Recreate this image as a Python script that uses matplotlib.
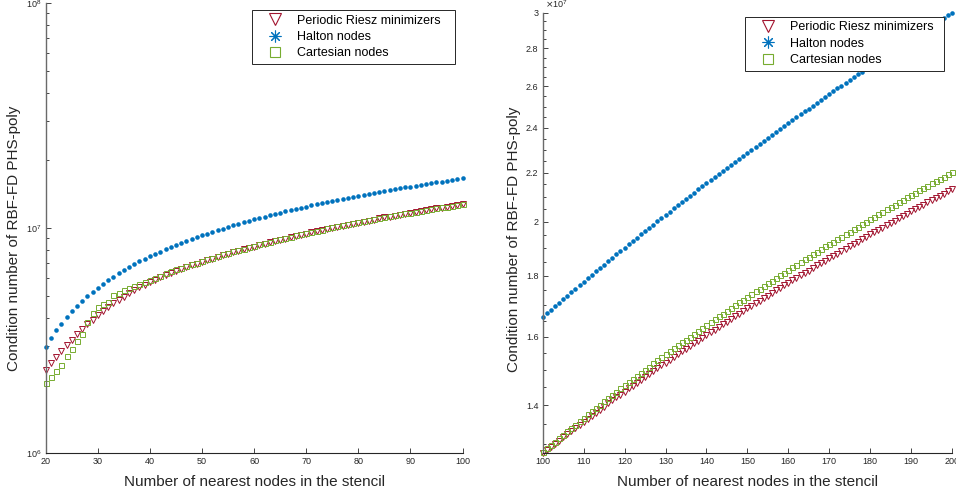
import numpy as np
import matplotlib.pyplot as plt
from matplotlib.lines import Line2D
from matplotlib.ticker import FixedLocator, FuncFormatter, LogLocator, NullFormatter

plt.rcParams['font.family'] = ['Liberation Sans', 'DejaVu Sans']

# Stencil sizes
n_small = list(range(20, 101))
n_large = list(range(100, 201))

# Condition numbers for n = 20..100 (units of 1e6)
riesz_small = [
    2.35, 2.51, 2.68, 2.86, 3.03, 3.20, 3.38, 3.56, 3.74, 3.92,
    4.10, 4.28, 4.46, 4.63, 4.80, 4.97, 5.13, 5.29, 5.45, 5.60,
    5.75, 5.90, 6.04, 6.19, 6.33, 6.46, 6.58, 6.71, 6.83, 6.95,
    7.08, 7.20, 7.32, 7.44, 7.56, 7.68, 7.80, 7.92, 8.04, 8.16,
    8.28, 8.40, 8.52, 8.64, 8.76, 8.87, 8.99, 9.11, 9.22, 9.34,
    9.45, 9.57, 9.68, 9.80, 9.91, 10.03, 10.14, 10.25, 10.37, 10.48,
    10.59, 10.70, 10.81, 10.92, 11.04, 11.15, 11.26, 11.36, 11.47, 11.58,
    11.69, 11.80, 11.91, 12.01, 12.12, 12.23, 12.34, 12.44, 12.55, 12.65,
    12.76]
halton_small = [
    2.98, 3.25, 3.52, 3.77, 4.02, 4.27, 4.51, 4.75, 4.98, 5.21,
    5.44, 5.66, 5.88, 6.09, 6.30, 6.51, 6.71, 6.91, 7.11, 7.30,
    7.49, 7.68, 7.86, 8.05, 8.23, 8.41, 8.59, 8.76, 8.94, 9.11,
    9.28, 9.45, 9.62, 9.79, 9.95, 10.12, 10.28, 10.44, 10.61, 10.77,
    10.93, 11.09, 11.24, 11.40, 11.56, 11.71, 11.87, 12.02, 12.17, 12.32,
    12.47, 12.62, 12.77, 12.91, 13.06, 13.21, 13.35, 13.49, 13.64, 13.78,
    13.92, 14.06, 14.20, 14.34, 14.48, 14.62, 14.75, 14.89, 15.03, 15.16,
    15.30, 15.43, 15.57, 15.70, 15.83, 15.97, 16.10, 16.23, 16.36, 16.49,
    16.62]
cartesian_small = [
    2.05, 2.19, 2.31, 2.47, 2.71, 2.91, 3.16, 3.39, 3.83, 4.19,
    4.45, 4.58, 4.72, 5.04, 5.17, 5.32, 5.41, 5.54, 5.65, 5.75,
    5.89, 6.03, 6.16, 6.30, 6.44, 6.56, 6.67, 6.80, 6.92, 7.03,
    7.16, 7.28, 7.40, 7.52, 7.64, 7.76, 7.88, 8.00, 8.11, 8.23,
    8.35, 8.48, 8.59, 8.71, 8.83, 8.94, 9.06, 9.17, 9.28, 9.41,
    9.52, 9.64, 9.74, 9.86, 9.97, 10.09, 10.20, 10.31, 10.42, 10.53,
    10.64, 10.75, 10.86, 10.97, 11.08, 11.19, 11.30, 11.41, 11.52, 11.63,
    11.73, 11.84, 11.95, 12.05, 12.16, 12.27, 12.36, 12.46, 12.58, 12.68,
    12.79]

# Condition numbers for n = 100..200 (units of 1e7)
riesz_large = [
    1.276, 1.284, 1.292, 1.300, 1.308, 1.316, 1.324, 1.332, 1.341, 1.349,
    1.357, 1.365, 1.373, 1.381, 1.389, 1.397, 1.406, 1.414, 1.422, 1.430,
    1.438, 1.447, 1.455, 1.463, 1.471, 1.480, 1.488, 1.496, 1.505, 1.513,
    1.521, 1.530, 1.538, 1.546, 1.555, 1.563, 1.571, 1.580, 1.588, 1.597,
    1.605, 1.614, 1.622, 1.630, 1.639, 1.647, 1.656, 1.664, 1.673, 1.681,
    1.690, 1.699, 1.707, 1.716, 1.724, 1.733, 1.741, 1.750, 1.759, 1.767,
    1.776, 1.785, 1.793, 1.802, 1.811, 1.819, 1.828, 1.837, 1.845, 1.854,
    1.863, 1.872, 1.880, 1.889, 1.898, 1.907, 1.916, 1.924, 1.933, 1.942,
    1.951, 1.960, 1.969, 1.977, 1.986, 1.995, 2.004, 2.013, 2.022, 2.031,
    2.040, 2.049, 2.058, 2.067, 2.076, 2.085, 2.094, 2.103, 2.112, 2.121,
    2.130]
halton_large = [
    1.662, 1.674, 1.685, 1.697, 1.709, 1.721, 1.732, 1.744, 1.756, 1.768,
    1.780, 1.792, 1.804, 1.816, 1.828, 1.840, 1.852, 1.865, 1.877, 1.889,
    1.901, 1.914, 1.926, 1.938, 1.951, 1.963, 1.976, 1.988, 2.001, 2.014,
    2.026, 2.039, 2.052, 2.064, 2.077, 2.090, 2.103, 2.116, 2.129, 2.142,
    2.155, 2.168, 2.181, 2.194, 2.207, 2.220, 2.234, 2.247, 2.260, 2.273,
    2.287, 2.300, 2.314, 2.327, 2.341, 2.354, 2.368, 2.381, 2.395, 2.409,
    2.422, 2.436, 2.450, 2.464, 2.478, 2.491, 2.505, 2.519, 2.533, 2.547,
    2.561, 2.576, 2.590, 2.604, 2.618, 2.632, 2.647, 2.661, 2.675, 2.690,
    2.704, 2.719, 2.733, 2.748, 2.762, 2.777, 2.791, 2.806, 2.821, 2.836,
    2.850, 2.865, 2.880, 2.895, 2.910, 2.925, 2.940, 2.955, 2.970, 2.985,
    3.000]
cartesian_large = [
    1.279, 1.288, 1.297, 1.305, 1.314, 1.323, 1.332, 1.341, 1.349, 1.358,
    1.367, 1.376, 1.385, 1.394, 1.402, 1.411, 1.420, 1.429, 1.438, 1.447,
    1.456, 1.465, 1.474, 1.483, 1.492, 1.501, 1.510, 1.519, 1.528, 1.537,
    1.546, 1.555, 1.564, 1.573, 1.582, 1.591, 1.600, 1.609, 1.618, 1.628,
    1.637, 1.646, 1.655, 1.664, 1.673, 1.682, 1.692, 1.701, 1.710, 1.719,
    1.729, 1.738, 1.747, 1.756, 1.765, 1.775, 1.784, 1.793, 1.803, 1.812,
    1.821, 1.831, 1.840, 1.849, 1.859, 1.868, 1.877, 1.887, 1.896, 1.906,
    1.915, 1.924, 1.934, 1.943, 1.953, 1.962, 1.972, 1.981, 1.991, 2.000,
    2.010, 2.019, 2.029, 2.038, 2.048, 2.057, 2.067, 2.077, 2.086, 2.096,
    2.105, 2.115, 2.125, 2.134, 2.144, 2.154, 2.163, 2.173, 2.183, 2.192,
    2.202]

labels = ['Periodic Riesz minimizers', 'Halton nodes', 'Cartesian nodes']
red, blue, green = '#A2142F', '#0072BD', '#77AC30'
dark = '#262626'


def draw(ax, n, riesz, halton, cart, scale):
    riesz = np.array(riesz) * scale
    halton = np.array(halton) * scale
    cart = np.array(cart) * scale
    ax.plot(n, riesz, ls='none', marker='v', ms=4.5, mfc='none', mec=red,
            mew=0.7, clip_on=False)
    ax.plot(n, halton, ls='none', marker='o', ms=3.3, mfc=blue, mec='none',
            clip_on=False)
    ax.plot(n, cart, ls='none', marker='s', ms=3.6, mfc='none', mec=green,
            mew=0.7, clip_on=False)
    ax.set_yscale('log')
    ax.set_xlim(n[0], n[-1])
    for side in ['top', 'right']:
        ax.spines[side].set_visible(False)
    ax.spines['bottom'].set_color(dark)
    ax.spines['bottom'].set_linewidth(0.8)
    ax.spines['left'].set_color('#6a6a6a')
    ax.spines['left'].set_linewidth(1.0)
    ax.tick_params(which='both', direction='in', color=dark, labelcolor=dark,
                   labelsize=6.5, width=0.6, pad=3)
    ax.tick_params(which='major', length=3.5)
    ax.tick_params(which='minor', length=2)
    ax.set_xlabel('Number of nearest nodes in the stencil', fontsize=11,
                  color=dark, labelpad=6.5)
    ax.set_ylabel('Condition number of RBF-FD PHS-poly', fontsize=11,
                  color=dark)

    handles = [
        Line2D([], [], ls='none', marker='v', ms=9, mfc='none', mec=red, mew=0.8),
        Line2D([], [], ls='none', marker=(8, 2, 0), ms=8.5, mec=blue, mew=0.8),
        Line2D([], [], ls='none', marker='s', ms=6.5, mfc='none', mec=green, mew=0.8),
    ]
    return handles


def add_legend(ax, handles, box):
    leg = ax.legend(handles, labels, loc='upper left', bbox_to_anchor=box,
                    mode='expand', borderaxespad=0, fontsize=9, fancybox=False,
                    framealpha=1, edgecolor=dark, borderpad=0.38,
                    labelspacing=0.34, handlelength=2.9, handletextpad=0.35)
    leg.get_frame().set_linewidth(0.7)


fig = plt.figure(figsize=(9.56, 4.92), dpi=100)
ax1 = fig.add_axes([0.0478, 0.0787, 0.4360, 0.9152])
ax2 = fig.add_axes([0.5677, 0.0787, 0.4281, 0.8955])

# Left panel: small stencils
h = draw(ax1, n_small, riesz_small, halton_small, cartesian_small, 1e6)
ax1.set_ylim(1e6, 1e8)
ax1.set_xticks(range(20, 101, 10))
ax1.yaxis.set_major_locator(LogLocator(base=10))
ax1.yaxis.set_minor_locator(LogLocator(base=10, subs=np.arange(2, 10)))
ax1.yaxis.set_minor_formatter(NullFormatter())
ax1.yaxis.set_label_coords(-0.059, 0.478)
add_legend(ax1, h, (0.495, 0.8668, 0.487, 0.1177))

# Right panel: large stencils
h = draw(ax2, n_large, riesz_large, halton_large, cartesian_large, 1e7)
ax2.set_ylim(min(riesz_large) * 1e7, max(halton_large) * 1e7)
ax2.set_xticks(range(100, 201, 10))
ax2.yaxis.set_major_locator(FixedLocator([v * 1e7 for v in
                                          [1.4, 1.6, 1.8, 2.0, 2.2, 2.4, 2.6, 2.8, 3.0]]))
ax2.yaxis.set_major_formatter(FuncFormatter(lambda v, _: f'{v / 1e7:g}'))
ax2.yaxis.set_minor_locator(FixedLocator(np.arange(1.30, 3.01, 0.05) * 1e7))
ax2.yaxis.set_minor_formatter(NullFormatter())
ax2.yaxis.set_label_coords(-0.053, 0.486)
ax2.text(0.005, 1.006, r'$\times\mathdefault{10^{7}}$', transform=ax2.transAxes,
         ha='left', va='bottom', fontsize=6.5, color=dark)
add_legend(ax2, h, (0.4943, 0.8715, 0.4862, 0.1194))

fig.savefig('out.png', dpi=100)
